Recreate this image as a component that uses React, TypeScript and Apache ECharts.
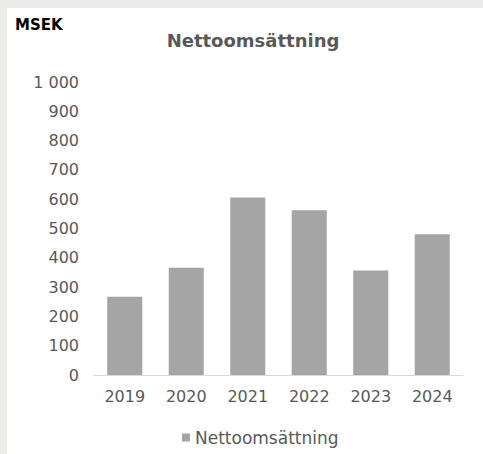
import React, { useEffect, useRef } from "react";
import * as echarts from "echarts";

const years = ["2019", "2020", "2021", "2022", "2023", "2024"];
const netSales = [267, 366, 606, 562, 357, 480];
const seriesName = "Nettoomsättning";
const titleText = "Nettoomsättning";
const unitText = "MSEK";

const FONT = "DejaVu Sans";

export default function App() {
  const ref = useRef<HTMLDivElement>(null);
  useEffect(() => {
    document.body.style.margin = "8px 0 0 7px";
    document.body.style.background = "#ececea";
    document.body.style.overflow = "hidden";
    const chart = echarts.init(ref.current!, null, { renderer: "svg" });
    chart.setOption({
      animation: false,
      backgroundColor: "#ffffff",
      graphic: [
        {
          type: "text",
          left: 8,
          top: 9,
          style: { text: unitText, fontFamily: FONT, fontSize: 15, fontWeight: "bold", fill: "#000000" },
        },
        {
          type: "text",
          x: 246,
          y: 23,
          style: {
            text: titleText,
            fontFamily: FONT,
            fontSize: 18,
            fontWeight: "bold",
            fill: "#595959",
            align: "center",
          },
        },
      ],
      grid: { left: 87, right: 20, top: 74, bottom: 79, containLabel: false },
      legend: {
        bottom: 3,
        left: 170,
        itemWidth: 8,
        itemHeight: 8,
        itemGap: 4,
        icon: "rect",
        textStyle: { fontFamily: FONT, fontSize: 17, color: "#595959" },
        data: [seriesName],
      },
      xAxis: {
        type: "category",
        data: years,
        axisLine: { lineStyle: { color: "#d9d9d9", width: 1 } },
        axisTick: { show: false },
        axisLabel: { fontFamily: FONT, fontSize: 16, color: "#595959", margin: 13 },
      },
      yAxis: {
        type: "value",
        min: 0,
        max: 1000,
        interval: 100,
        splitLine: { show: false },
        axisLine: { show: false },
        axisTick: { show: false },
        axisLabel: {
          fontFamily: FONT,
          fontSize: 16,
          color: "#595959",
          margin: 15,
          formatter: (v: number) => String(v).replace(/\B(?=(\d{3})+(?!\d))/g, " "),
        },
      },
      series: [
        {
          name: seriesName,
          type: "bar",
          data: netSales,
          barWidth: "57%",
          itemStyle: { color: "#a5a5a5" },
        },
      ],
    });
    return () => chart.dispose();
  }, []);
  return <div ref={ref} style={{ width: 476, height: 446 }} />;
}
